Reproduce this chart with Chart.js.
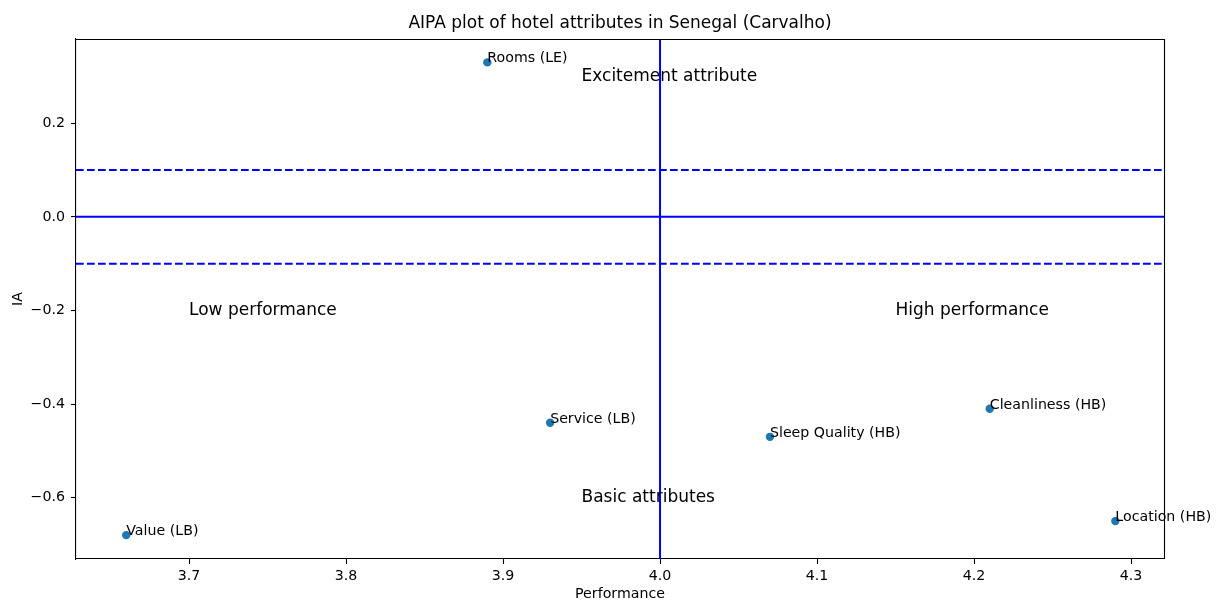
<!DOCTYPE html>
<html>
<head>
<meta charset="utf-8">
<script src="https://cdn.jsdelivr.net/npm/chart.js@4/dist/chart.umd.min.js"></script>
<style>
html,body{margin:0;padding:0;background:#fff;}
#wrap{width:1221px;height:601px;position:relative;}
</style>
</head>
<body>
<div id="wrap"><canvas id="c" width="1221" height="601"></canvas></div>
<script>
// ---- data ----
const attributes = ["Rooms (LE)", "Service (LB)", "Value (LB)", "Sleep Quality (HB)", "Cleanliness (HB)", "Location (HB)"];
const performance = [3.89, 3.93, 3.66, 4.07, 4.21, 4.29];
const ia = [0.33, -0.44, -0.68, -0.47, -0.41, -0.65];

const regionLabels = ["Excitement attribute", "Low performance", "High performance", "Basic attributes"];
const regionX = [3.95, 3.70, 4.15, 3.95];
const regionY = [0.30, -0.20, -0.20, -0.60];

const xRange = [3.628, 4.321];
const yRange = [-0.731, 0.380];
const xTicks = [3.7, 3.8, 3.9, 4.0, 4.1, 4.2, 4.3];
const yTicks = [-0.6, -0.4, -0.2, 0.0, 0.2];
const perfThreshold = 4.0;
const iaLines = [0.0, 0.1, -0.1];

const chartTitle = "AIPA plot of hotel attributes in Senegal (Carvalho)";
const xTitle = "Performance";
const yTitle = "IA";

const FONT = "'DejaVu Sans', sans-serif";
const BIG = 17, SMALL = 14.2;
const fmt = v => { const s = Number(v).toFixed(1); return s.startsWith('-') ? '\u2212' + s.slice(1) : s; };

const points = performance.map((x, i) => ({x: x, y: ia[i]}));

const lineDatasets = [];
lineDatasets.push({
  data: [{x: perfThreshold, y: yRange[0]}, {x: perfThreshold, y: yRange[1]}],
  showLine: true, borderColor: '#0000ff', borderWidth: 2, pointRadius: 0, fill: false
});
iaLines.forEach(v => {
  lineDatasets.push({
    data: [{x: xRange[0], y: v}, {x: xRange[1], y: v}],
    showLine: true, borderColor: '#0000ff', borderWidth: 2, pointRadius: 0, fill: false,
    borderDash: v === 0 ? [] : [7.7, 3.3]
  });
});

const textPlugin = {
  id: 'texts',
  afterDraw(chart) {
    const ctx = chart.ctx, xs = chart.scales.x, ys = chart.scales.y, a = chart.chartArea;
    ctx.save();
    // frame top/right
    ctx.strokeStyle = '#000';
    ctx.lineWidth = 1.1;
    ctx.beginPath();
    ctx.moveTo(a.left, a.top + 0.5);
    ctx.lineTo(a.right + 0.5, a.top + 0.5);
    ctx.lineTo(a.right + 0.5, a.bottom);
    ctx.stroke();
    ctx.fillStyle = '#000';
    // title
    ctx.font = BIG + "px " + FONT;
    ctx.textAlign = 'center';
    ctx.textBaseline = 'middle';
    ctx.fillText(chartTitle, (a.left + a.right) / 2, 23.5);
    // point labels
    ctx.font = SMALL + "px " + FONT;
    ctx.textAlign = 'left';
    ctx.textBaseline = 'alphabetic';
    attributes.forEach((t, i) => {
      ctx.fillText(t, xs.getPixelForValue(performance[i]), ys.getPixelForValue(ia[i]));
    });
    // region labels
    ctx.font = BIG + "px " + FONT;
    ctx.textBaseline = 'middle';
    regionLabels.forEach((t, i) => {
      ctx.fillText(t, xs.getPixelForValue(regionX[i]), ys.getPixelForValue(regionY[i]));
    });
    ctx.restore();
  }
};

new Chart(document.getElementById('c'), {
  type: 'scatter',
  data: {
    datasets: [
      { data: points, backgroundColor: '#1f77b4', borderColor: '#1f77b4', pointRadius: 4.2, pointHoverRadius: 4.2, borderWidth: 0 },
      ...lineDatasets
    ]
  },
  options: {
    responsive: false,
    animation: false,
    devicePixelRatio: 1,
    layout: { padding: { top: 39, right: 57, left: 0, bottom: 0 } },
    plugins: { legend: { display: false }, tooltip: { enabled: false }, title: { display: false } },
    scales: {
      x: {
        type: 'linear', min: xRange[0], max: xRange[1],
        afterFit: s => { s.height = 42; },
        afterBuildTicks: s => { s.ticks = xTicks.map(v => ({value: v})); },
        ticks: { callback: v => fmt(v), color: '#000', font: { family: FONT, size: SMALL }, padding: 4, maxRotation: 0, autoSkip: false },
        grid: { drawOnChartArea: false, drawTicks: true, tickLength: 5, color: '#000', tickWidth: 1.1 },
        border: { color: '#000', width: 1.1 },
        title: { display: true, text: xTitle, color: '#000', font: { family: FONT, size: SMALL, lineHeight: 1 }, padding: 0 }
      },
      y: {
        type: 'linear', min: yRange[0], max: yRange[1],
        afterFit: s => { s.width = 76; },
        afterBuildTicks: s => { s.ticks = yTicks.map(v => ({value: v})); },
        ticks: { callback: v => fmt(v), color: '#000', font: { family: FONT, size: SMALL }, padding: 6, autoSkip: false },
        grid: { drawOnChartArea: false, drawTicks: true, tickLength: 5, color: '#000', tickWidth: 1.1 },
        border: { color: '#000', width: 1.1 },
        title: { display: true, text: yTitle, color: '#000', font: { family: FONT, size: SMALL, lineHeight: 1 }, padding: { top: 11, bottom: 0 } }
      }
    }
  },
  plugins: [textPlugin]
});
</script>
</body>
</html>
